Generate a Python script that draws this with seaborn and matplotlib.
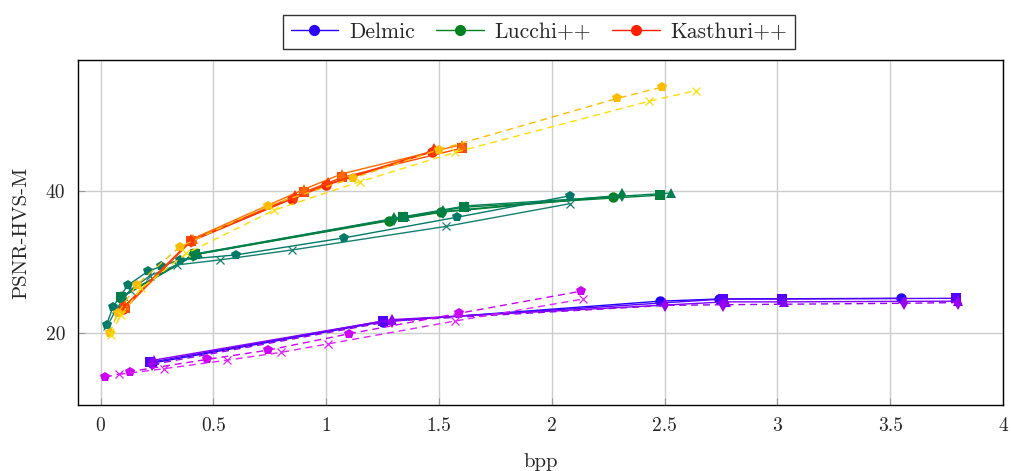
import matplotlib
matplotlib.use("Agg")
import matplotlib.pyplot as plt
from matplotlib.lines import Line2D
import seaborn as sns
import pandas as pd

# ---------------- data ----------------
# Delmic
del_circle_x = [0.23, 1.25, 2.48, 2.74, 3.55]
del_circle_y = [15.8, 21.6, 24.5, 24.8, 24.9]
del_square_x = [0.22, 1.25, 2.76, 3.02, 3.79]
del_square_y = [15.9, 21.7, 24.8, 24.8, 24.9]
del_tri_x = [0.235, 1.29, 2.77, 3.03, 3.80]
del_tri_y = [16.2, 21.9, 24.4, 24.4, 24.5]
del_dia_x = [0.23, 1.29, 2.50, 2.76, 3.56, 3.80]
del_dia_y = [15.6, 21.7, 23.9, 24.0, 24.2, 24.3]
del_pent_x = [0.02, 0.13, 0.47, 0.74, 1.10, 1.59, 2.13]
del_pent_y = [13.8, 14.6, 16.3, 17.6, 19.9, 22.8, 25.9]
del_x_x = [0.08, 0.28, 0.56, 0.80, 1.01, 1.57, 2.14]
del_x_y = [14.2, 15.0, 16.2, 17.3, 18.5, 21.7, 24.8]

# Lucchi++
luc_circle_x = [0.09, 0.41, 1.28, 1.51, 2.27]
luc_circle_y = [25.0, 31.0, 35.8, 37.0, 39.2]
luc_square_x = [0.09, 0.42, 1.34, 1.61, 2.48]
luc_square_y = [25.1, 31.1, 36.3, 37.7, 39.4]
luc_tri_x = [0.10, 0.43, 1.35, 1.62, 2.53]
luc_tri_y = [25.2, 31.2, 36.4, 37.9, 39.7]
luc_dia_x = [0.09, 0.41, 1.30, 1.52, 2.31]
luc_dia_y = [25.0, 31.0, 36.0, 37.1, 39.4]
luc_pent_x = [0.027, 0.055, 0.12, 0.21, 0.27, 0.35, 0.60, 1.08, 1.58, 2.08]
luc_pent_y = [21.2, 23.7, 26.7, 28.7, 29.4, 30.3, 31.0, 33.4, 36.3, 39.3]
luc_x_x = [0.03, 0.07, 0.13, 0.22, 0.34, 0.53, 0.85, 1.53, 2.08]
luc_x_y = [21.0, 23.4, 26.0, 28.1, 29.6, 30.3, 31.7, 35.0, 38.2]

# Kasthuri++
kas_circle_x = [0.10, 0.40, 0.85, 1.00, 1.47]
kas_circle_y = [23.4, 32.9, 38.9, 40.8, 45.5]
kas_square_x = [0.11, 0.40, 0.90, 1.07, 1.60]
kas_square_y = [23.5, 33.0, 39.8, 41.9, 46.0]
kas_tri_x = [0.11, 0.41, 0.90, 1.07, 1.60]
kas_tri_y = [23.9, 33.3, 40.2, 42.4, 46.5]
kas_dia_x = [0.10, 0.40, 0.86, 1.01, 1.48]
kas_dia_y = [23.6, 33.0, 39.1, 41.0, 45.7]
kas_pent_x = [0.04, 0.076, 0.16, 0.35, 0.74, 1.12, 1.50, 2.29, 2.49]
kas_pent_y = [20.0, 22.8, 26.8, 32.1, 37.9, 41.8, 45.8, 53.0, 54.6]
kas_x_x = [0.045, 0.09, 0.18, 0.38, 0.77, 1.15, 1.57, 2.43, 2.64]
kas_x_y = [19.8, 22.5, 26.3, 31.2, 37.3, 41.3, 45.4, 52.6, 54.1]

datasets = ["Delmic", "Lucchi++", "Kasthuri++"]
legend_colors = ["#2a00ff", "#008020", "#ff2000"]

x_ticks = [0, 0.5, 1, 1.5, 2, 2.5, 3, 3.5, 4]
x_tick_labels = ["0", "0.5", "1", "1.5", "2", "2.5", "3", "3.5", "4"]
y_ticks = [20, 40]
y_tick_labels = ["20", "40"]

# (x, y, color, marker, linestyle)
series = [
    (del_circle_x, del_circle_y, "#2200ff", "o", "-"),
    (del_square_x, del_square_y, "#5500ff", "s", "-"),
    (del_tri_x, del_tri_y, "#8000ff", "^", "-"),
    (del_dia_x, del_dia_y, "#9a00f0", "d", "--"),
    (del_pent_x, del_pent_y, "#cc00f5", "p", "--"),
    (del_x_x, del_x_y, "#dd22ff", "x", "--"),
    (luc_circle_x, luc_circle_y, "#008020", "o", "-"),
    (luc_square_x, luc_square_y, "#007f3c", "s", "-"),
    (luc_tri_x, luc_tri_y, "#007f55", "^", "-"),
    (luc_dia_x, luc_dia_y, "#007f48", "d", "-"),
    (luc_pent_x, luc_pent_y, "#007a66", "p", "-"),
    (luc_x_x, luc_x_y, "#15806f", "x", "-"),
    (kas_circle_x, kas_circle_y, "#ff2000", "o", "-"),
    (kas_square_x, kas_square_y, "#ff4800", "s", "-"),
    (kas_tri_x, kas_tri_y, "#ff6a00", "^", "-"),
    (kas_dia_x, kas_dia_y, "#ff3a00", "d", "-"),
    (kas_pent_x, kas_pent_y, "#ffbb00", "p", "--"),
    (kas_x_x, kas_x_y, "#ffdd00", "x", "--"),
]

# ---------------- style ----------------
sns.set_style("ticks")
plt.rcParams["font.family"] = ["cmr10", "DejaVu Serif"]
plt.rcParams["mathtext.fontset"] = "cm"
plt.rcParams["axes.formatter.use_mathtext"] = True

fig = plt.figure(figsize=(10.11, 4.71), dpi=100)
ax = fig.add_axes([78 / 1011, (471 - 405) / 471, (1003 - 78) / 1011, (405 - 60) / 471])

for xs, ys, col, mk, ls in series:
    df = pd.DataFrame({"x": xs, "y": ys})
    if mk == "x":
        kw = dict(markersize=6, markeredgewidth=0.9)
    else:
        kw = dict(markersize=7.5, markeredgewidth=0)
    line_kw = dict(dashes=(5, 3.5)) if ls == "--" else dict(linestyle="-")
    sns.lineplot(data=df, x="x", y="y", ax=ax, color=col, marker=mk,
                 linewidth=1.0, sort=False, estimator=None,
                 markeredgecolor=col, **kw, **line_kw)

ax.set_xlim(-0.1, 4.0)
ax.set_ylim(9.9, 58.4)
ax.set_xticks(x_ticks)
ax.set_xticklabels(x_tick_labels)
ax.set_yticks(y_ticks)
ax.set_yticklabels(y_tick_labels)
ax.grid(True, color="#cccccc", linewidth=1.0)
ax.set_axisbelow(True)
ax.tick_params(direction="in", length=5, color="#999999", labelsize=14, pad=9)
for s in ax.spines.values():
    s.set_color("black")
    s.set_linewidth(1.0)

ax.set_xlabel("bpp", fontsize=15, labelpad=13)
ax.set_ylabel("PSNR-HVS-M", fontsize=15, labelpad=11)

handles = [Line2D([0], [0], color=c, marker="o", markersize=8, linewidth=1.0,
                  markeredgewidth=0) for c in legend_colors]
leg = fig.legend(handles, datasets, loc="upper center", ncol=3,
                 bbox_to_anchor=(539 / 1011, 1 - 4 / 471), fontsize=15.5,
                 frameon=True, fancybox=False, edgecolor="black",
                 handlelength=2.2, columnspacing=1.0, handletextpad=0.5,
                 borderpad=0.35)
leg.get_frame().set_linewidth(1.0)

fig.savefig("out.png", dpi=100)
